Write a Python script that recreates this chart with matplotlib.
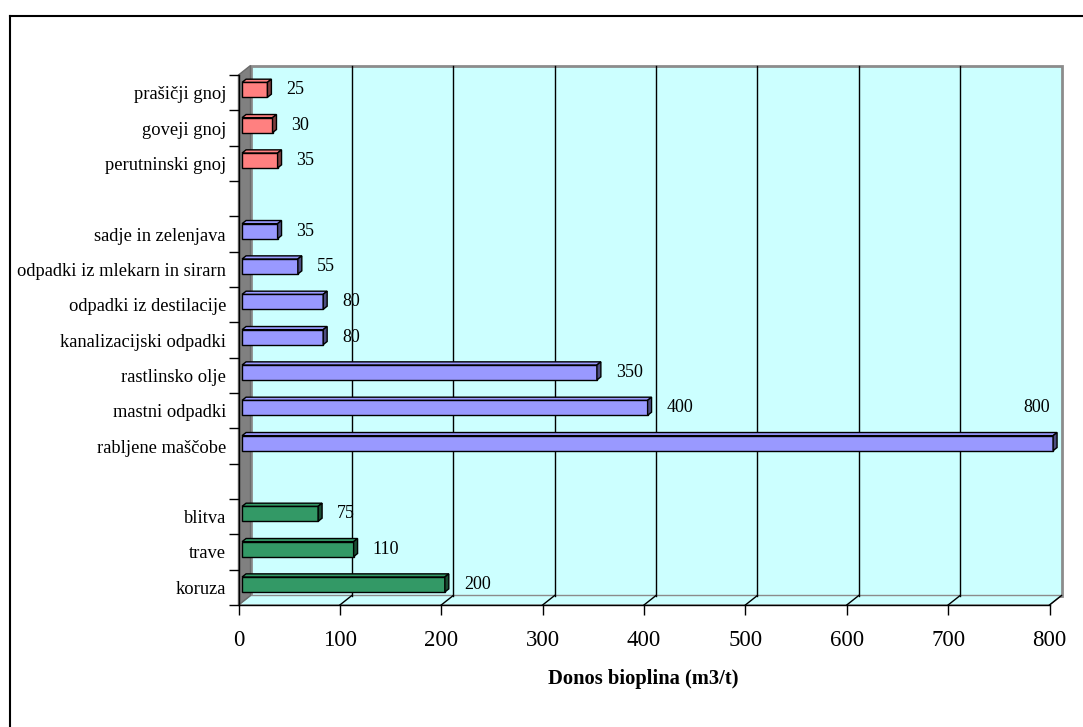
import numpy as np
import matplotlib.pyplot as plt
from matplotlib.patches import Polygon
from matplotlib.lines import Line2D

# data (bottom to top, groups separated by an empty row)
crops = ['koruza', 'trave', 'blitva']
crop_vals = [200, 110, 75]
waste = ['rabljene maščobe', 'mastni odpadki', 'rastlinsko olje', 'kanalizacijski odpadki',
         'odpadki iz destilacije', 'odpadki iz mlekarn in sirarn', 'sadje in zelenjava']
waste_vals = [800, 400, 350, 80, 80, 55, 35]
manure = ['perutninski gnoj', 'goveji gnoj', 'prašičji gnoj']
manure_vals = [35, 30, 25]
xticks = [0, 100, 200, 300, 400, 500, 600, 700, 800]
xlabel = 'Donos bioplina (m3/t)'

# front, top, side colours per group
group_colors = [('#339966', '#339966', '#1a4d33'),
                ('#9999ff', '#9999ff', '#4d4d80'),
                ('#ff8080', '#ff8080', '#803f3f')]

plt.rcParams['font.family'] = ['Liberation Serif', 'DejaVu Serif']

labels, values, colors = [], [], []
for names, vals, col in zip([crops, waste, manure], [crop_vals, waste_vals, manure_vals], group_colors):
    if labels:
        labels.append('')
        values.append(None)
        colors.append(None)
    labels += names
    values += vals
    colors += [col] * len(names)

W, H = 1083, 727
fig = plt.figure(figsize=(W / 100, H / 100), dpi=100)
x0, x1, yb, yt = 238.5, 1049.5, 605, 75
ax = fig.add_axes([x0 / W, 1 - yb / H, (x1 - x0) / W, (yb - yt) / H])
n = len(labels)
ax.set_xlim(0, 800)
ax.set_ylim(-0.5, n - 0.5)
ax.patch.set_visible(False)
ux = (x1 - x0) / 800.0
uy = (yb - yt) / float(n)
DX, DY = 12 / ux, 9.5 / uy


def d(x, y, f):
    return (x + f * DX, y + f * DY)


def poly(pts, fc, ec, lw=1.0, z=1):
    ax.add_patch(Polygon(pts, closed=True, facecolor=fc, edgecolor=ec, lw=lw,
                         zorder=z, clip_on=False, joinstyle='miter'))


lo, hi = -0.5, n - 0.5
# walls
poly([d(0, lo, 1), d(800, lo, 1), d(800, hi, 1), d(0, hi, 1)], '#ccffff', '#8c8c8c', 2, 0)
poly([(0, lo), (800, lo), d(800, lo, 1), d(0, lo, 1)], '#ccffff', '#8c8c8c', 1, 0.05)
poly([(0, lo), d(0, lo, 1), d(0, hi, 1), (0, hi)], '#808080', '#6a6a6a', 1, 0.1)
for v in xticks[1:-1]:
    ax.plot([v + DX] * 2, [lo + DY, hi + DY], color='black', lw=1, zorder=0.5, clip_on=False)
for v in xticks[1:]:
    ax.plot([v, v + DX], [lo, lo + DY], color='black', lw=1, zorder=0.5, clip_on=False)

# bars
f0, f1 = 0.3, 0.63
hh = 7.5 / uy
for i, (v, col) in enumerate(zip(values, colors)):
    if v is None:
        continue
    front, top, side = col
    poly([d(0, i - hh, f0), d(v, i - hh, f0), d(v, i + hh, f0), d(0, i + hh, f0)], front, 'black', 1, 2)
    poly([d(0, i + hh, f0), d(v, i + hh, f0), d(v, i + hh, f1), d(0, i + hh, f1)], top, 'black', 1, 2)
    poly([d(v, i - hh, f0), d(v, i - hh, f1), d(v, i + hh, f1), d(v, i + hh, f0)], side, 'black', 1, 2)
    if v >= 800:
        ax.text(800 + 1 / ux, i + f0 * DY + 36 / uy, str(v), ha='right', va='center',
                fontsize=13, clip_on=False)
    else:
        ax.text(v + (f1 * 12 + 15) / ux, i + f0 * DY, str(v), ha='left', va='center',
                fontsize=13, clip_on=False)

# axes
for s in ['top', 'right']:
    ax.spines[s].set_visible(False)
for s in ['left', 'bottom']:
    ax.spines[s].set_color('black')
    ax.spines[s].set_linewidth(1)
ax.set_xticks(xticks)
ax.set_xticklabels([str(t) for t in xticks])
ax.tick_params(axis='x', direction='out', length=7.2, width=1, labelsize=16.5, pad=11)
ax.set_yticks(np.arange(-0.5, n, 1))
ax.set_yticklabels([])
ax.set_yticks(np.arange(n), minor=True)
ax.set_yticklabels(labels, minor=True, fontsize=13.3)
ax.tick_params(axis='y', which='major', direction='out', length=7.2, width=1)
ax.tick_params(axis='y', which='minor', length=0, pad=9)

fig.text(643 / W, 1 - 679 / H, xlabel, ha='center', va='center', fontsize=14.8, fontweight='bold')

# chart frame (clipped at right and bottom)
fig.add_artist(Line2D([10 / W, 1], [1 - 16 / H] * 2, color='black', lw=1.5))
fig.add_artist(Line2D([10 / W] * 2, [0, 1 - 16 / H], color='black', lw=1.5))

fig.savefig('out.png', dpi=100)
